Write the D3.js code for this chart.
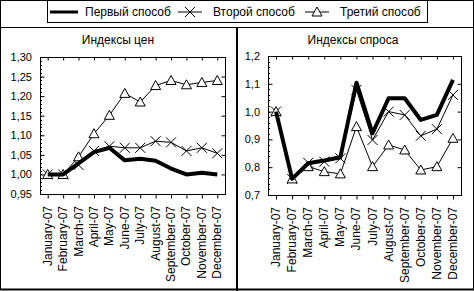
<!DOCTYPE html>
<html>
<head>
<meta charset="utf-8">
<script src="https://cdn.jsdelivr.net/npm/d3@7"></script>
<style>
  body { margin: 0; background: #fff; }
  text { font-family: "Liberation Sans", Arial, sans-serif; font-size: 12px; fill: #000; }
  text.ylab { font-size: 11px; }
</style>
</head>
<body>
<svg id="chart" width="474" height="291"></svg>
<script>
// data
const months = ['January-07','February-07','March-07','April-07','May-07','June-07',
  'July-07','August-07','September-07','October-07','November-07','December-07'];
const seriesNames = ['Первый способ', 'Второй способ', 'Третий способ'];

const pricesFirst  = [1.00, 1.00, 1.028, 1.057, 1.068, 1.036, 1.040, 1.035, 1.015, 1.000, 1.004, 1.000];
const pricesSecond = [1.00, 1.00, 1.024, 1.060, 1.072, 1.068, 1.068, 1.085, 1.082, 1.060, 1.068, 1.054];
const pricesThird  = [1.00, 1.00, 1.045, 1.104, 1.151, 1.207, 1.185, 1.227, 1.240, 1.229, 1.235, 1.240];

const demandFirst  = [1.00, 0.758, 0.814, 0.824, 0.836, 1.104, 0.922, 1.048, 1.048, 0.970, 0.988, 1.114];
const demandSecond = [1.00, 0.758, 0.816, 0.820, 0.832, 1.078, 0.898, 1.000, 0.988, 0.913, 0.937, 1.060];
const demandThird  = [1.00, 0.758, 0.802, 0.784, 0.776, 0.946, 0.802, 0.880, 0.862, 0.790, 0.802, 0.904];

const priceTicks  = [0.95, 1.00, 1.05, 1.10, 1.15, 1.20, 1.25, 1.30];
const demandTicks = [0.7, 0.8, 0.9, 1.0, 1.1, 1.2];

const svg = d3.select('#chart');

// outer frames
svg.append('rect').attr('x', 0.5).attr('y', 0.5).attr('width', 473).attr('height', 289)
  .attr('fill', 'none').attr('stroke', '#000');
svg.append('line').attr('x1', 0).attr('x2', 474).attr('y1', 27.5).attr('y2', 27.5).attr('stroke', '#000');
svg.append('line').attr('x1', 237).attr('x2', 237).attr('y1', 27).attr('y2', 291)
  .attr('stroke', '#000').attr('stroke-width', 2);
svg.append('line').attr('x1', 0).attr('x2', 474).attr('y1', 289.5).attr('y2', 289.5)
  .attr('stroke', '#000').attr('stroke-width', 2);

// markers
function drawMarker(g, type, x, y) {
  if (type === 'x') {
    g.append('path').attr('d', `M${x-5},${y-5}L${x+5},${y+5}M${x-5},${y+5}L${x+5},${y-5}`)
      .attr('stroke', '#000').attr('stroke-width', 1).attr('fill', 'none');
  } else if (type === 'tri') {
    g.append('path').attr('d', `M${x},${y-5}L${x+5},${y+4}L${x-5},${y+4}Z`)
      .attr('stroke', '#000').attr('stroke-width', 1).attr('fill', '#fff');
  }
}

// legend
const legend = svg.append('g');
legend.append('rect').attr('x', 47.5).attr('y', 0.5).attr('width', 380).attr('height', 22)
  .attr('fill', '#fff').attr('stroke', '#000');
const legendItems = [
  {x: 50, textX: 85, type: 'thick'},
  {x: 178, textX: 213, type: 'x'},
  {x: 305, textX: 340, type: 'tri'}
];
legendItems.forEach((it, i) => {
  if (it.type === 'thick') {
    legend.append('line').attr('x1', it.x).attr('x2', it.x + 28).attr('y1', 12).attr('y2', 12)
      .attr('stroke', '#000').attr('stroke-width', 3);
  } else {
    legend.append('line').attr('x1', it.x).attr('x2', it.x + 24).attr('y1', 12).attr('y2', 12)
      .attr('stroke', '#000').attr('stroke-width', 1);
    drawMarker(legend, it.type, it.x + 12, 12);
  }
  legend.append('text').attr('x', it.textX).attr('y', 16).text(seriesNames[i]);
});

// panels
const panels = [
  {title: 'Индексы цен', cx: 118, xr: [40, 225], yd: [0.95, 1.30], yr: [194, 57],
   ticks: priceTicks, minor: 0.01, fmt: d => d3.format('.2f')(d).replace('.', ','),
   series: [pricesFirst, pricesSecond, pricesThird]},
  {title: 'Индексы спроса', cx: 353, xr: [268, 461], yd: [0.7, 1.2], yr: [195, 56],
   ticks: demandTicks, minor: 0.02, fmt: d => d3.format('.1f')(d).replace('.', ','),
   series: [demandFirst, demandSecond, demandThird]}
];

panels.forEach(p => {
  const g = svg.append('g');
  const x = d3.scalePoint().domain(months).range(p.xr).padding(0.5);
  const y = d3.scaleLinear().domain(p.yd).range(p.yr);

  g.append('text').attr('x', p.cx).attr('y', 44).attr('text-anchor', 'middle').text(p.title);

  // frame
  g.append('rect').attr('x', p.xr[0] + 0.5).attr('y', p.yr[1] + 0.5)
    .attr('width', p.xr[1] - p.xr[0]).attr('height', p.yr[0] - p.yr[1])
    .attr('fill', 'none').attr('stroke', '#000');

  // minor ticks on y axis
  const minorTicks = d3.range(p.yd[0], p.yd[1] + 1e-9, p.minor);
  minorTicks.forEach(v => {
    g.append('line').attr('x1', p.xr[0]).attr('x2', p.xr[0] + 2)
      .attr('y1', Math.round(y(v)) + 0.5).attr('y2', Math.round(y(v)) + 0.5).attr('stroke', '#000');
  });

  // y axis
  const yAxis = g.append('g').attr('transform', `translate(${p.xr[0] + 0.5},0)`)
    .call(d3.axisRight(y).tickValues(p.ticks).tickSize(4).tickFormat(''));
  yAxis.select('.domain').remove();
  g.append('g').attr('transform', `translate(${p.xr[1] + 0.5},0)`)
    .call(d3.axisLeft(y).tickValues(p.ticks).tickSize(4).tickFormat(''))
    .select('.domain').remove();
  p.ticks.forEach(v => {
    g.append('text').attr('class', 'ylab').attr('x', p.xr[0] - 8).attr('y', y(v) + 4)
      .attr('text-anchor', 'end').text(p.fmt(v));
  });

  // x axis
  const xAxis = g.append('g').attr('transform', `translate(0,${p.yr[0] + 0.5})`)
    .call(d3.axisBottom(x).tickSize(4).tickFormat(''));
  xAxis.select('.domain').remove();
  g.append('g').attr('transform', `translate(0,${p.yr[1] + 0.5})`)
    .call(d3.axisBottom(x).tickSize(3).tickFormat(''))
    .select('.domain').remove();
  months.forEach(m => {
    g.append('text').attr('transform', `translate(${x(m) + 4},${p.yr[0] + 12}) rotate(-90)`)
      .attr('text-anchor', 'end').text(m);
  });

  const line = d3.line().x((d, i) => x(months[i])).y(d => y(d));

  // third (triangles)
  g.append('path').datum(p.series[2]).attr('d', line)
    .attr('fill', 'none').attr('stroke', '#000').attr('stroke-width', 1);
  // second (x)
  g.append('path').datum(p.series[1]).attr('d', line)
    .attr('fill', 'none').attr('stroke', '#000').attr('stroke-width', 1);
  p.series[1].forEach((v, i) => drawMarker(g, 'x', x(months[i]), y(v)));
  p.series[2].forEach((v, i) => drawMarker(g, 'tri', x(months[i]), y(v)));
  // first (thick)
  g.append('path').datum(p.series[0]).attr('d', line)
    .attr('fill', 'none').attr('stroke', '#000').attr('stroke-width', 4)
    .attr('stroke-linejoin', 'round');
});
</script>
</body>
</html>
